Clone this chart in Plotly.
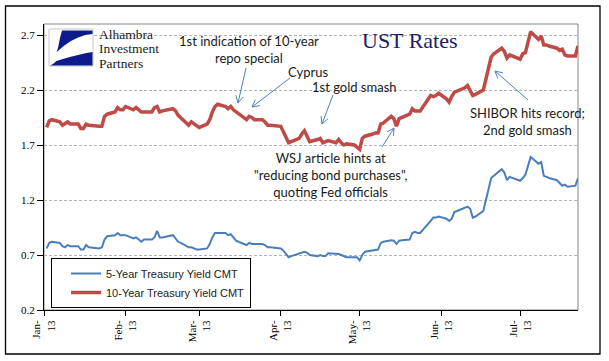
import math
import plotly.graph_objects as go

# ---------------- data ----------------
dates = (
    ["2013-01-%02d" % d for d in [2, 3, 4, 7, 8, 9, 10, 11, 14, 15, 16, 17, 18, 22, 23, 24, 25, 28, 29, 30, 31]]
    + ["2013-02-%02d" % d for d in [1, 4, 5, 6, 7, 8, 11, 12, 13, 14, 15, 19, 20, 21, 22, 25, 26, 27, 28]]
    + ["2013-03-%02d" % d for d in [1, 4, 5, 6, 7, 8, 11, 12, 13, 14, 15, 18, 19, 20, 21, 22, 25, 26, 27, 28]]
    + ["2013-04-%02d" % d for d in [1, 2, 3, 4, 5, 8, 9, 10, 11, 12, 15, 16, 17, 18, 19, 22, 23, 24, 25, 26, 29, 30]]
    + ["2013-05-%02d" % d for d in [1, 2, 3, 6, 7, 8, 9, 10, 13, 14, 15, 16, 17, 20, 21, 22, 23, 24, 28, 29, 30, 31]]
    + ["2013-06-%02d" % d for d in [3, 4, 5, 6, 7, 10, 11, 12, 13, 14, 17, 18, 19, 20, 21, 24, 25, 26, 27, 28]]
    + ["2013-07-%02d" % d for d in [1, 2, 3, 5, 8, 9, 10, 11, 12, 15, 16, 17, 18, 19, 22, 23]]
)

ust5 = [
    # Jan
    0.76, 0.81, 0.82, 0.81, 0.78, 0.77, 0.79, 0.78, 0.78, 0.75, 0.75, 0.79, 0.77, 0.76, 0.77, 0.84, 0.87, 0.88, 0.90, 0.88, 0.88,
    # Feb
    0.88, 0.85, 0.86, 0.84, 0.82, 0.84, 0.84, 0.86, 0.92, 0.86, 0.86, 0.88, 0.85, 0.82, 0.81, 0.77, 0.77, 0.76, 0.75,
    # Mar
    0.75, 0.76, 0.80, 0.86, 0.90, 0.90, 0.90, 0.88, 0.89, 0.86, 0.83, 0.80, 0.79, 0.81, 0.80, 0.80, 0.80, 0.79, 0.77, 0.77,
    # Apr
    0.76, 0.74, 0.71, 0.68, 0.69, 0.71, 0.72, 0.73, 0.72, 0.70, 0.69, 0.70, 0.69, 0.69, 0.715, 0.71, 0.71, 0.70, 0.69, 0.68, 0.68, 0.68,
    # May
    0.65, 0.70, 0.73, 0.74, 0.75, 0.75, 0.81, 0.82, 0.835, 0.83, 0.80, 0.83, 0.835, 0.84, 0.90, 0.91, 0.90, 0.90, 1.01, 1.04, 1.04, 1.05,
    # Jun
    1.03, 1.01, 1.03, 1.09, 1.10, 1.125, 1.14, 1.12, 1.04, 1.05, 1.10, 1.20, 1.30, 1.40, 1.42, 1.48, 1.45, 1.38, 1.41, 1.40,
    # Jul
    1.375, 1.40, 1.43, 1.59, 1.53, 1.545, 1.42, 1.41, 1.40, 1.38, 1.35, 1.33, 1.34, 1.32, 1.33, 1.40,
]

ust10 = [
    # Jan
    1.86, 1.92, 1.93, 1.91, 1.88, 1.90, 1.91, 1.89, 1.89, 1.85, 1.85, 1.89, 1.88, 1.87, 1.87, 1.96, 1.98, 2.00, 2.04, 2.02, 2.02,
    # Feb
    2.05, 2.02, 2.04, 2.02, 2.00, 2.00, 2.00, 2.04, 2.05, 2.00, 2.01, 2.03, 2.01, 1.97, 1.95, 1.88, 1.91, 1.89, 1.87,
    # Mar
    1.86, 1.89, 1.93, 2.00, 2.05, 2.07, 2.05, 2.03, 2.05, 2.02, 2.00, 1.95, 1.93, 1.96, 1.95, 1.93, 1.93, 1.91, 1.88, 1.88,
    # Apr
    1.87, 1.82, 1.76, 1.72, 1.73, 1.76, 1.80, 1.83, 1.78, 1.73, 1.75, 1.76, 1.72, 1.73, 1.74, 1.72, 1.75, 1.72, 1.70, 1.71, 1.70, 1.68,
    # May
    1.66, 1.76, 1.78, 1.80, 1.81, 1.81, 1.89, 1.90, 1.96, 1.94, 1.87, 1.94, 1.95, 1.98, 2.03, 2.01, 2.01, 2.01, 2.15, 2.14, 2.15, 2.17,
    # Jun
    2.12, 2.09, 2.14, 2.18, 2.19, 2.22, 2.24, 2.19, 2.15, 2.16, 2.20, 2.30, 2.42, 2.50, 2.53, 2.58, 2.55, 2.49, 2.52, 2.51,
    # Jul
    2.48, 2.53, 2.54, 2.73, 2.66, 2.69, 2.61, 2.61, 2.60, 2.58, 2.56, 2.57, 2.52, 2.51, 2.51, 2.60,
]

series_names = ["5-Year Treasury Yield CMT", "10-Year Treasury Yield CMT"]
tick_dates = ["2013-01-01", "2013-02-01", "2013-03-01", "2013-04-01", "2013-05-01", "2013-06-01", "2013-07-01"]
tick_text = ["Jan-<br>13", "Feb-<br>13", "Mar-<br>13", "Apr-<br>13", "May-<br>13", "Jun-<br>13", "Jul-<br>13"]
y_ticks = [0.2, 0.7, 1.2, 1.7, 2.2, 2.7]
y_tick_text = ["0.2", "0.7", "1.2", "1.7", "2.2", "2.7"]

# ---------------- layout helpers (pixel -> paper) ----------------
W, H = 609, 361
L, R, T, B = 44, 578, 24, 310


def px(x):
    return (x - L) / (R - L)


def py(y):
    return (B - y) / (B - T)


fig = go.Figure()
fig.add_trace(go.Scatter(x=dates, y=ust5, mode="lines", name=series_names[0],
                         line=dict(color="#4a7ebb", width=2)))
fig.add_trace(go.Scatter(x=dates, y=ust10, mode="lines", name=series_names[1],
                         line=dict(color="#be4b48", width=3.5)))

shapes = []
# outer chart border
shapes.append(dict(type="rect", xref="paper", yref="paper", x0=px(5.5), x1=px(600), y0=py(6), y1=py(354),
                   line=dict(color="black", width=1.3), fillcolor="rgba(0,0,0,0)", layer="below"))
# plot-area border (gray)
shapes.append(dict(type="rect", xref="paper", yref="paper", x0=0, x1=1, y0=0, y1=1,
                   line=dict(color="#868686", width=1), fillcolor="rgba(0,0,0,0)", layer="below"))

# logo
shapes.append(dict(type="rect", xref="paper", yref="paper", x0=px(49), x1=px(93), y0=py(29), y1=py(66),
                   line=dict(color="#c8c8c8", width=1), fillcolor="white"))


def path(points, close=True):
    s = "M " + " L ".join("%f,%f" % (px(a), py(b)) for a, b in points)
    return s + (" Z" if close else "")


navy = "#0d1a8c"
# top wedge of logo
top_pts = [(62, 30.5), (92.5, 30.5), (92.5, 34)]
for t in [0.2, 0.4, 0.6, 0.8, 1.0]:
    top_pts.append((92.5 - 36 * t, 34 + 18 * t * t * 0.9 + 2 * t))
top_pts += [(58, 48), (60, 38)]
shapes.append(dict(type="path", xref="paper", yref="paper", path=path(top_pts),
                   fillcolor=navy, line=dict(width=0)))
# bottom part of logo
bot_pts = [(50, 65.5), (92.5, 65.5), (92.5, 52)]
for t in [0.2, 0.4, 0.6, 0.8, 1.0]:
    bot_pts.append((92.5 - 36 * t, 52 + 6 * t + 3 * t * t))
bot_pts += [(53, 64)]
shapes.append(dict(type="path", xref="paper", yref="paper", path=path(bot_pts),
                   fillcolor=navy, line=dict(width=0)))

# arrows (pixel coordinates tail -> head)
arrows = [
    ((246, 68), (238, 103)),
    ((290, 78), (252, 107)),
    ((333, 95), (322, 124)),
    ((382, 147), (394, 128)),
    ((528, 100), (495, 71)),
]
acol = "#4f81bd"
for (x0, y0), (x1, y1) in arrows:
    ang = math.atan2(y1 - y0, x1 - x0)
    hl = 8
    pts = []
    for da in (math.radians(28), -math.radians(28)):
        pts.append((x1 - hl * math.cos(ang + da), y1 - hl * math.sin(ang + da)))
    p = "M %f,%f L %f,%f M %f,%f L %f,%f L %f,%f" % (
        px(x0), py(y0), px(x1), py(y1),
        px(pts[0][0]), py(pts[0][1]), px(x1), py(y1), px(pts[1][0]), py(pts[1][1]))
    shapes.append(dict(type="path", xref="paper", yref="paper", path=p,
                       line=dict(color=acol, width=1)))

ann_font = dict(family="Lato, Liberation Sans, sans-serif", size=13, color="#1a1a1a")
annotations = [
    dict(text="1st indication of 10-year<br>repo special", x=px(249), y=py(49)),
    dict(text="Cyprus", x=px(308), y=py(72)),
    dict(text="1st gold smash", x=px(354), y=py(87)),
    dict(text="WSJ article hints at<br>\"reducing bond purchases\",<br>quoting Fed officials", x=px(330), y=py(175)),
    dict(text="SHIBOR hits record;<br>2nd gold smash", x=px(527), y=py(121)),
]
for a in annotations:
    a.update(xref="paper", yref="paper", showarrow=False, font=ann_font, xanchor="center", yanchor="middle")

# title and logo text
annotations.append(dict(text="UST Rates", x=px(410), y=py(40), xref="paper", yref="paper", showarrow=False,
                        xanchor="center", yanchor="middle",
                        font=dict(family="Liberation Serif, serif", size=22, color="#1c1c6e")))
for i, word in enumerate(["Alhambra", "Investment", "Partners"]):
    annotations.append(dict(text=word, x=px(98), y=py(34 + 14.5 * i), xref="paper", yref="paper",
                            showarrow=False, xanchor="left", yanchor="middle",
                            borderpad=0,
                            font=dict(family="Liberation Serif, serif", size=13.5, color="#222222")))

fig.update_layout(
    width=W, height=H,
    margin=dict(l=L, r=W - R, t=T, b=H - B, pad=0),
    paper_bgcolor="white", plot_bgcolor="white",
    shapes=shapes, annotations=annotations,
    showlegend=True,
    legend=dict(x=px(51), y=py(258), xanchor="left", yanchor="top",
                bordercolor="black", borderwidth=1, bgcolor="white",
                font=dict(family="Liberation Sans, Arial, sans-serif", size=11, color="#222"),
                tracegroupgap=0, itemwidth=30, indentation=14, entrywidth=170),
    xaxis=dict(type="date", range=["2013-01-01", "2013-07-23"],
               tickmode="array", tickvals=tick_dates, ticktext=tick_text, tickangle=-90,
               ticks="outside", ticklen=5, tickcolor="black",
               showline=True, linecolor="black", linewidth=1, showgrid=False, zeroline=False,
               tickfont=dict(family="Liberation Serif, serif", size=11, color="black")),
    yaxis=dict(range=[0.2, 2.8], tickmode="array", tickvals=y_ticks, ticktext=y_tick_text,
               ticks="outside", ticklen=6, tickcolor="black",
               showline=True, linecolor="black", linewidth=1,
               showgrid=True, gridcolor="#b4b4b4", griddash="3px,2px", gridwidth=1, zeroline=False,
               tickfont=dict(family="Liberation Serif, serif", size=11, color="black")),
)

fig.write_html("out.html", config={"displayModeBar": False},
               post_script="document.body.style.margin='0';")
